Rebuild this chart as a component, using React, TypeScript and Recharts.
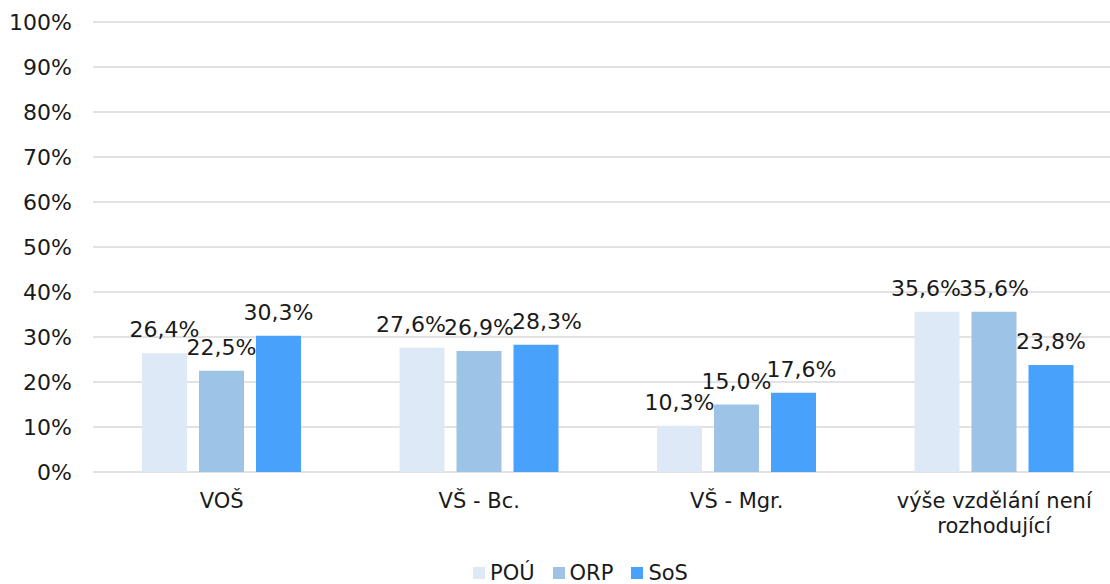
import { BarChart, Bar, XAxis, YAxis, CartesianGrid, Legend, LabelList } from 'recharts';

const categories = ['VOŠ', 'VŠ - Bc.', 'VŠ - Mgr.', 'výše vzdělání není\nrozhodující'];
const pou = [26.4, 27.6, 10.3, 35.6];
const orp = [22.5, 26.9, 15.0, 35.6];
const sos = [30.3, 28.3, 17.6, 23.8];
const yTicks = [0, 10, 20, 30, 40, 50, 60, 70, 80, 90, 100];

// labels that collide get nudged sideways, like the original does
const pouNudge = [0, -11, 0, -11];
const orpNudge = [0, 0, 0, 0];
const sosNudge = [0, 11, 8, 0];

const series = [
  { key: 'POÚ', color: '#dde9f6', nudge: pouNudge },
  { key: 'ORP', color: '#9dc3e6', nudge: orpNudge },
  { key: 'SoS', color: '#48a1fb', nudge: sosNudge },
];

const FONT = '"DejaVu Sans", Verdana, sans-serif';
const TEXT = '#1a1a1a';

const data = categories.map((c, i) => ({ name: c, 'POÚ': pou[i], ORP: orp[i], SoS: sos[i] }));

function pct(v: number) { return v.toFixed(1).replace('.', ',') + '%'; }

function CategoryTick(props: any) {
  const { x, y, payload } = props;
  const lines = String(payload.value).split('\n');
  return (
    <text x={x} y={y} textAnchor="middle" fill={TEXT} fontSize={21} fontFamily={FONT}>
      {lines.map((l, i) => (
        <tspan key={i} x={x} dy={i === 0 ? 34 : 25}>{l}</tspan>
      ))}
    </text>
  );
}

function makeLabel(nudge: number[]) {
  return (props: any) => {
    const { x, y, width, value, index } = props;
    return (
      <text
        x={x + width / 2 + (nudge[index] ?? 0)}
        y={y - 16}
        textAnchor="middle"
        fill={TEXT}
        fontSize={22}
        fontFamily={FONT}
      >
        {pct(Number(value))}
      </text>
    );
  };
}

function LegendContent() {
  return (
    <div style={{ display: 'flex', gap: 18, fontFamily: FONT, fontSize: 21, color: TEXT, lineHeight: '24px' }}>
      {series.map((s) => (
        <div key={s.key} style={{ display: 'flex', alignItems: 'center', gap: 5 }}>
          <span style={{ width: 12, height: 12, background: s.color, display: 'inline-block' }} />
          <span>{s.key}</span>
        </div>
      ))}
    </div>
  );
}

export default function App() {
  return (
    <div style={{ position: 'absolute', left: 0, top: 0, width: 1110, height: 584, overflow: 'hidden', background: '#fff' }}>
      <BarChart
        width={1130}
        height={584}
        data={data}
        margin={{ top: 22, right: 7, left: 0, bottom: 22 }}
        barGap={12}
        barSize={45}
      >
        <CartesianGrid vertical={false} stroke="#d9d9d9" strokeWidth={1.5} />
        <XAxis
          dataKey="name"
          axisLine={false}
          tickLine={false}
          tickSize={0}
          height={60}
          interval={0}
          tick={<CategoryTick />}
        />
        <YAxis
          domain={[0, 100]}
          ticks={yTicks}
          width={93}
          axisLine={false}
          tickLine={false}
          tickSize={0}
          tickMargin={21}
          tickFormatter={(v: number) => `${v}%`}
          tick={{ fontSize: 22, fill: TEXT, fontFamily: FONT }}
        />
        <Legend
          verticalAlign="bottom"
          height={30}
          content={<LegendContent />}
          wrapperStyle={{ left: 473, top: 561, bottom: 'auto', width: 300 }}
        />
        {series.map((s) => (
          <Bar key={s.key} dataKey={s.key} fill={s.color} isAnimationActive={false}>
            <LabelList dataKey={s.key} content={makeLabel(s.nudge)} />
          </Bar>
        ))}
      </BarChart>
    </div>
  );
}
